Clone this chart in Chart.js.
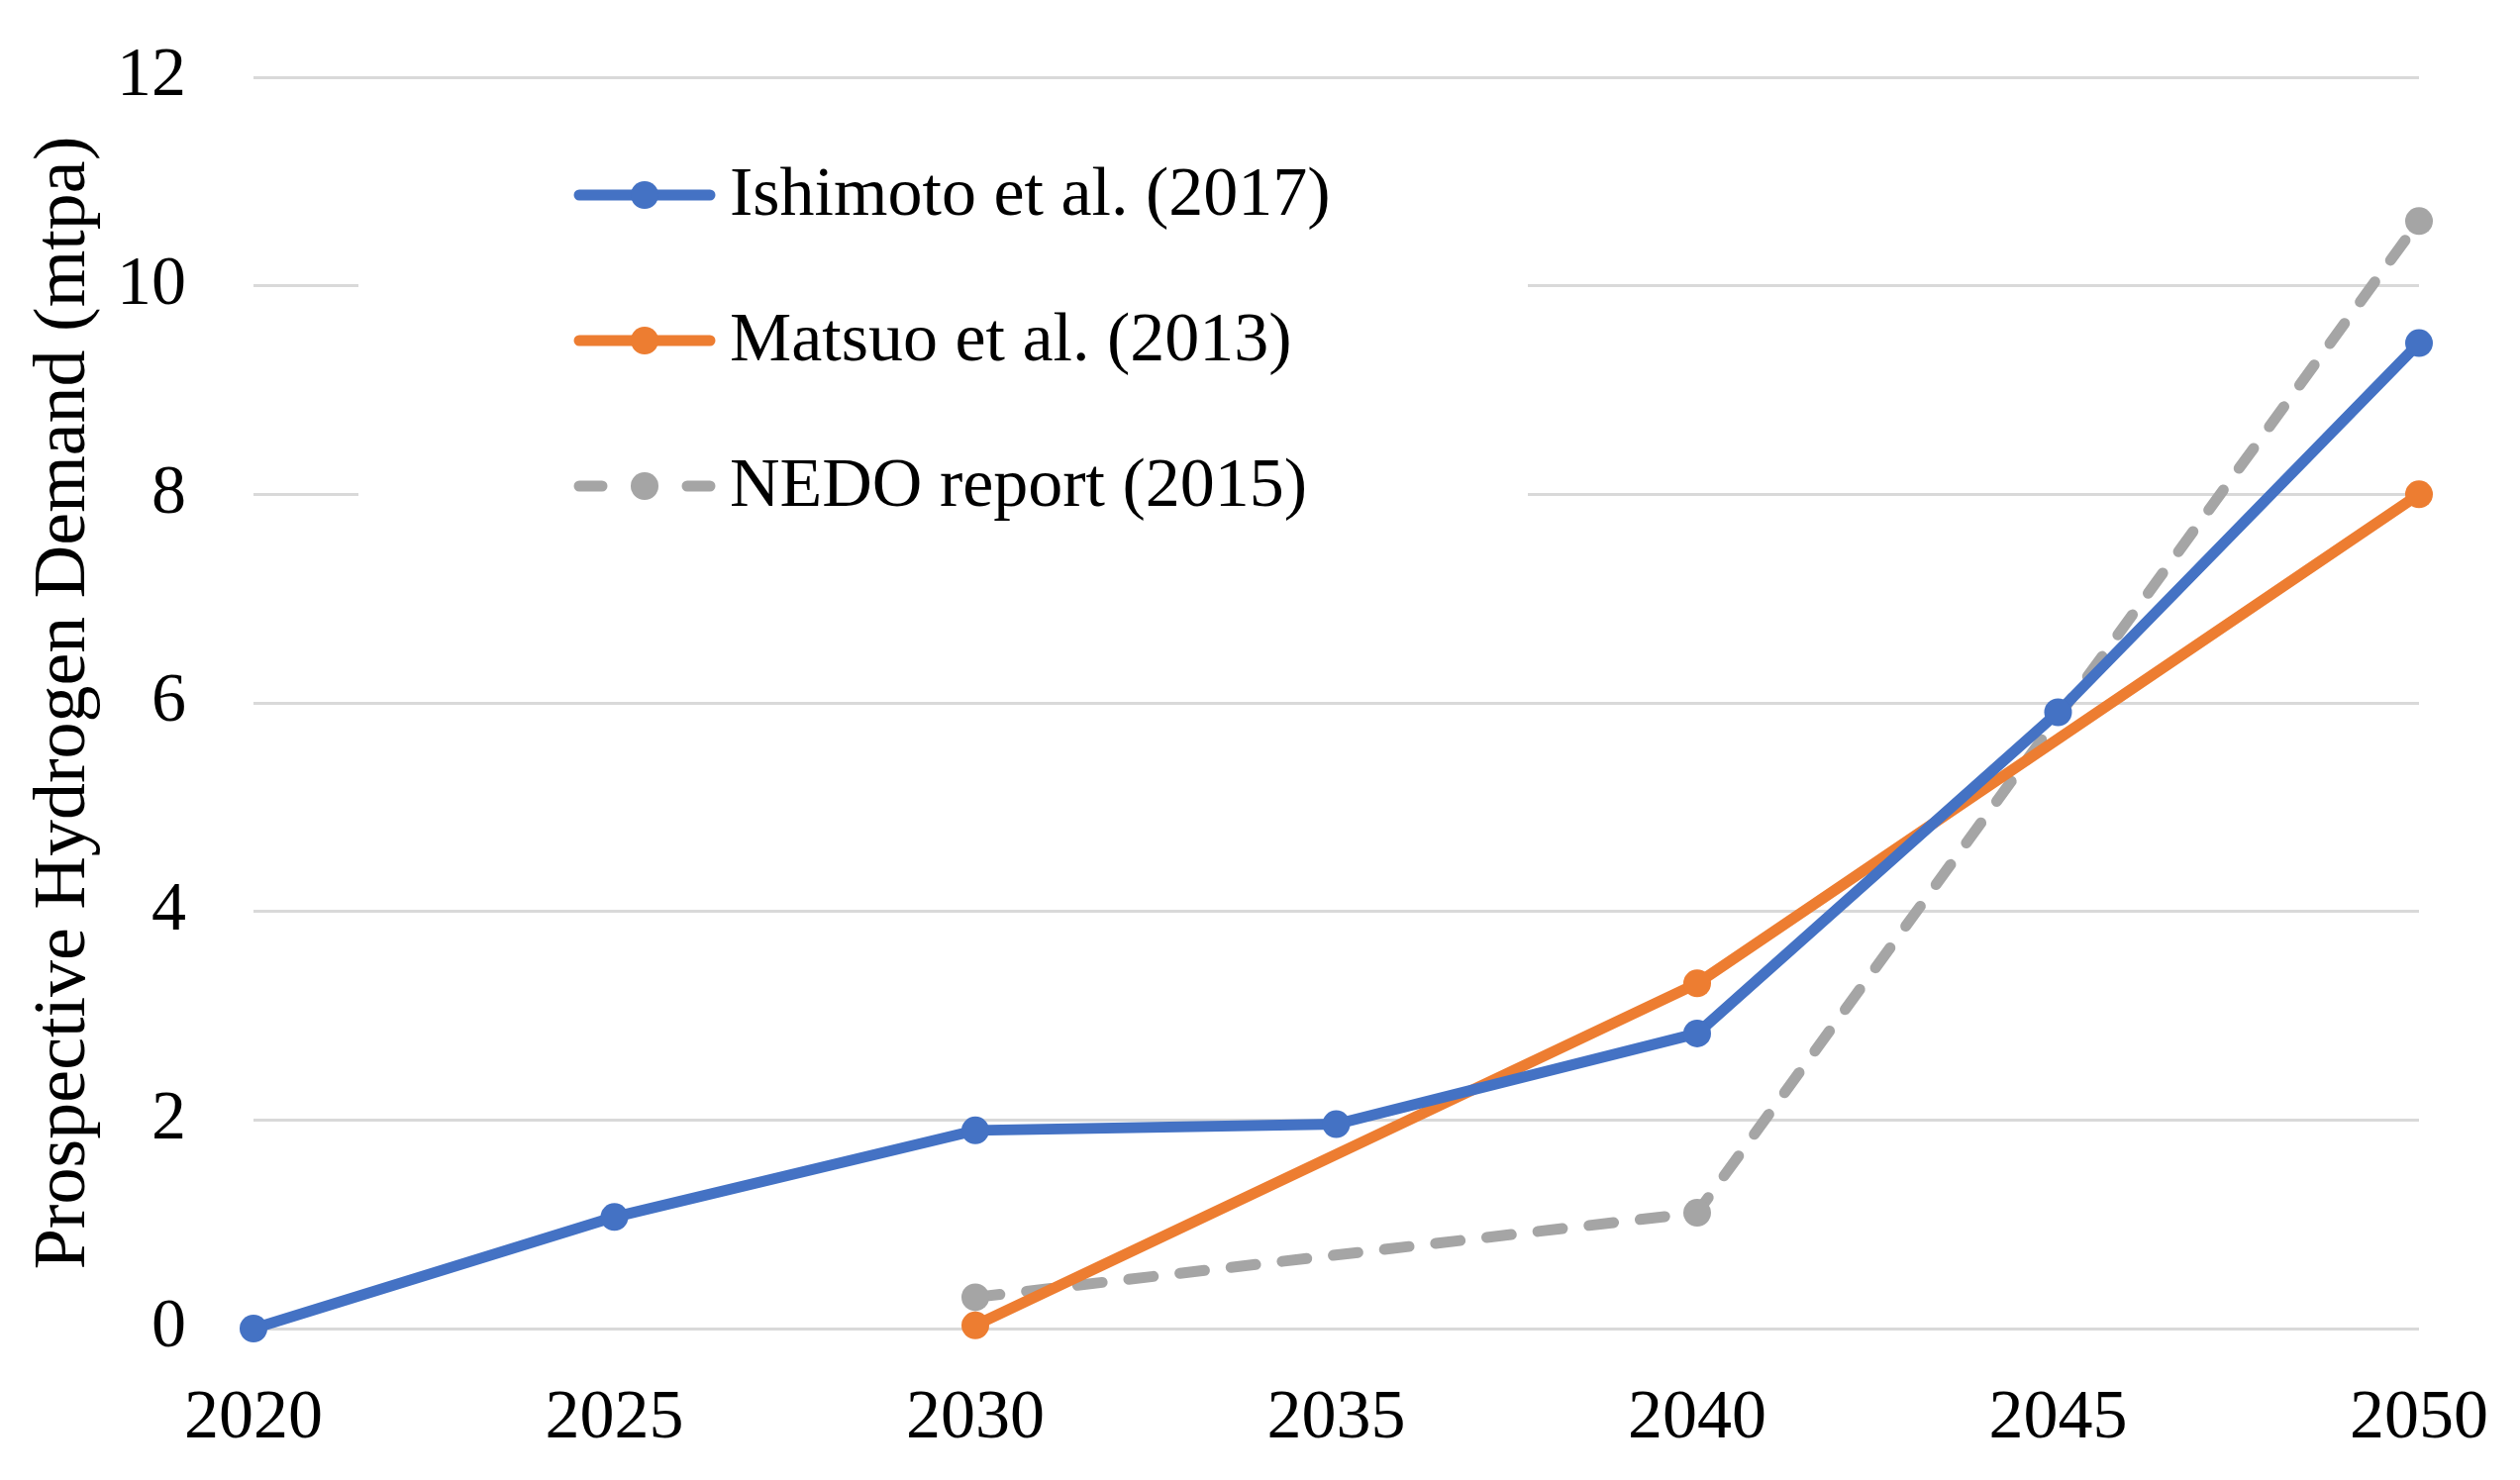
<!DOCTYPE html>
<html>
<head>
<meta charset="utf-8">
<script src="https://cdn.jsdelivr.net/npm/chart.js@4/dist/chart.umd.min.js"></script>
<style>
  html, body { margin: 0; padding: 0; background: #ffffff; }
  #wrap { width: 2545px; height: 1495px; }
</style>
</head>
<body>
<div id="wrap"><canvas id="c" width="2545" height="1495"></canvas></div>
<script>
const years = ['2020', '2025', '2030', '2035', '2040', '2045', '2050'];
const ishimoto = [0, 1.07, 1.9, 1.96, 2.83, 5.91, 9.45];
const matsuo = [null, null, 0.03, null, 3.31, null, 8.0];
const nedo = [null, null, 0.3, null, 1.11, null, 10.62];
const seriesNames = ['Ishimoto et al. (2017)', 'Matsuo et al. (2013)', 'NEDO report (2015)'];
const yTicks = [0, 2, 4, 6, 8, 10, 12];
const yTitle = 'Prospective Hydrogen Demand (mtpa)';

const FONT = "'Liberation Serif', 'DejaVu Serif', serif";
const FS = 70;
const LW = 11;
const PR = 14;

const legendPlugin = {
  id: 'insideLegend',
  beforeDatasetsDraw(chart) {
    const ctx = chart.ctx;
    ctx.save();
    ctx.fillStyle = '#ffffff';
    ctx.fillRect(362, 125, 1543 - 362, 475);
    const rows = [197, 344, 491];
    chart.data.datasets.forEach((ds, i) => {
      const y = rows[i];
      ctx.strokeStyle = ds.borderColor;
      ctx.lineWidth = LW;
      ctx.lineCap = 'round';
      ctx.setLineDash([]);
      ctx.beginPath();
      if (ds.borderDash) {
        ctx.moveTo(585, y); ctx.lineTo(608, y);
        ctx.moveTo(694, y); ctx.lineTo(717, y);
      } else {
        ctx.moveTo(585, y); ctx.lineTo(717, y);
      }
      ctx.stroke();
      ctx.fillStyle = ds.borderColor;
      ctx.beginPath();
      ctx.arc(651, y, PR, 0, Math.PI * 2);
      ctx.fill();
      ctx.fillStyle = '#000000';
      ctx.font = FS + 'px ' + FONT;
      ctx.textAlign = 'left';
      ctx.textBaseline = 'middle';
      ctx.fillText(ds.label, 737, y + 2);
    });
    ctx.restore();
  }
};

new Chart(document.getElementById('c'), {
  type: 'line',
  data: {
    labels: years,
    datasets: [
      {
        label: seriesNames[0], data: ishimoto,
        borderColor: '#4472C4', backgroundColor: '#4472C4',
        borderWidth: LW, pointRadius: PR, pointBorderWidth: 0,
        pointBackgroundColor: '#4472C4', spanGaps: true, clip: false, tension: 0
      },
      {
        label: seriesNames[1], data: matsuo,
        borderColor: '#ED7D31', backgroundColor: '#ED7D31',
        borderWidth: LW, pointRadius: PR, pointBorderWidth: 0,
        pointBackgroundColor: '#ED7D31', spanGaps: true, clip: false, tension: 0
      },
      {
        label: seriesNames[2], data: nedo,
        borderColor: '#A5A5A5', backgroundColor: '#A5A5A5',
        borderWidth: LW, pointRadius: PR, pointBorderWidth: 0,
        borderDash: [25, 27], borderCapStyle: 'round',
        pointBackgroundColor: '#A5A5A5', spanGaps: true, clip: false, tension: 0
      }
    ]
  },
  options: {
    responsive: false,
    animation: false,
    devicePixelRatio: 1,
    layout: { padding: { left: 0, right: 102, top: 78, bottom: 0 } },
    plugins: {
      legend: { display: false },
      tooltip: { enabled: false }
    },
    scales: {
      x: {
        offset: false,
        grid: { display: false, drawTicks: true, tickLength: 43, tickColor: 'rgba(0,0,0,0)' },
        border: { display: false },
        ticks: {
          color: '#000000', padding: 7, maxRotation: 0, autoSkip: false,
          font: { family: FONT, size: FS }
        },
        afterFit(scale) { scale.height = 1495 - 1342; }
      },
      y: {
        min: 0, max: 12,
        afterBuildTicks(scale) { scale.ticks = yTicks.map(v => ({ value: v })); },
        grid: { color: '#D9D9D9', lineWidth: 3, drawTicks: true, tickLength: 60, tickColor: 'rgba(0,0,0,0)' },
        border: { display: false },
        ticks: {
          color: '#000000', padding: 8,
          font: { family: FONT, size: FS }
        },
        title: {
          display: true, text: yTitle, color: '#000000',
          font: { family: FONT, size: 74 },
          padding: { top: 21, bottom: 0 }
        },
        afterFit(scale) { scale.width = 256; }
      }
    }
  },
  plugins: [legendPlugin]
});
</script>
</body>
</html>
